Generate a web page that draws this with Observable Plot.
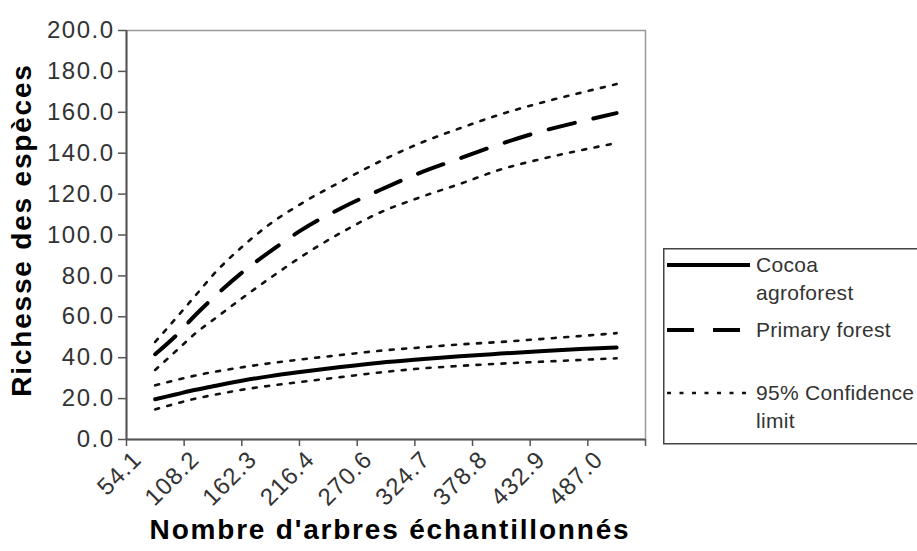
<!DOCTYPE html>
<html>
<head>
<meta charset="utf-8">
<script src="https://cdn.jsdelivr.net/npm/d3@7"></script>
<script src="https://cdn.jsdelivr.net/npm/@observablehq/plot@0.6"></script>
<style>
  html, body { margin: 0; padding: 0; background: #fff; overflow: hidden; }
  #wrap { position: relative; width: 917px; height: 551px; overflow: hidden; font-family: "Liberation Sans", Arial, sans-serif; }
  #legend { position: absolute; left: 663px; top: 248px; }
</style>
</head>
<body>
<div id="wrap"></div>
<script>
// ---- data ----
const xTickLabels = ["54.1", "108.2", "162.3", "216.4", "270.6", "324.7", "378.8", "432.9", "487.0", ""];
const xTickValues = [54.1, 108.2, 162.3, 216.4, 270.6, 324.7, 378.8, 432.9, 487.0, 541.1];
const yTicks = [0, 20, 40, 60, 80, 100, 120, 140, 160, 180, 200];

const treesSampled = [81, 100, 119, 138, 161, 189, 217, 255, 292, 330, 367, 405, 442, 480, 514];
const primaryForest      = [41.7, 50.5, 61.0, 70.5, 81.0, 92.0, 102.0, 113.0, 122.0, 130.5, 137.5, 144.5, 150.5, 155.5, 159.6];
const primaryForestUpper = [47.7, 59.0, 70.5, 82.0, 93.5, 105.5, 115.0, 126.0, 136.0, 145.0, 152.2, 159.0, 164.5, 169.5, 173.8];
const primaryForestLower = [34.0, 43.0, 52.0, 59.5, 68.5, 79.0, 89.0, 101.0, 111.0, 118.5, 125.0, 132.0, 137.0, 141.4, 145.0];
const cocoaAgroforest      = [19.7, 22.0, 24.3, 26.3, 28.6, 31.0, 33.0, 35.4, 37.5, 39.2, 40.7, 42.0, 43.2, 44.3, 45.0];
const cocoaAgroforestUpper = [26.5, 29.0, 31.3, 33.2, 35.2, 37.3, 39.1, 41.3, 43.4, 45.0, 46.5, 47.7, 49.1, 50.6, 52.0];
const cocoaAgroforestLower = [14.7, 17.5, 20.0, 22.0, 24.2, 26.3, 28.1, 30.5, 32.8, 34.7, 36.0, 37.1, 38.0, 38.9, 39.7];

const legendLabels = [["Cocoa", "agroforest"], ["Primary forest"], ["95% Confidence", "limit"]];
const xTitle = "Nombre d'arbres échantillonnés";
const yTitle = "Richesse des espèces";

// ---- build ----
const rows = arr => treesSampled.map((x, i) => ({x, y: arr[i]}));
const font = "'Liberation Sans', Arial, sans-serif";
const solid = {stroke: "#000", strokeWidth: 4, strokeLinecap: "round"};
const dashed = {stroke: "#000", strokeWidth: 4, strokeDasharray: "27,19"};
const dotted = {stroke: "#111", strokeWidth: 2.6, strokeDasharray: "4,8.5"};

const chart = Plot.plot({
  width: 917,
  height: 551,
  marginLeft: 126,
  marginRight: 272,
  marginTop: 30,
  marginBottom: 112,
  style: {fontFamily: font, background: "#fff", color: "#333", overflow: "visible"},
  x: {type: "linear", domain: [xTickValues[0], xTickValues[xTickValues.length - 1]]},
  y: {domain: [yTicks[0], yTicks[yTicks.length - 1]]},
  marks: [
    Plot.frame({stroke: "#9a9a9a", strokeWidth: 1.5}),
    Plot.axisY({ticks: yTicks, tickFormat: d3.format(".1f"), tickSize: 8, tickPadding: 4,
      fontSize: 24, stroke: "#555", strokeWidth: 1.5, fill: "#333", label: null}),
    // tick marks only
    Plot.axisX({ticks: xTickValues, tickFormat: () => "", tickSize: 7, stroke: "#555", strokeWidth: 1.5, label: null}),
    // rotated tick labels only
    Plot.axisX({ticks: xTickValues, tickFormat: (d, i) => xTickLabels[i], tickSize: 0, tickPadding: 8,
      tickRotate: -45, fontSize: 24, dx: 11, dy: 8, fill: "#333", label: null}),
    Plot.ruleY([yTicks[0]], {stroke: "#555", strokeWidth: 2}),
    Plot.ruleX([xTickValues[0]], {stroke: "#555", strokeWidth: 2}),
    Plot.line(rows(primaryForestUpper), {x: "x", y: "y", curve: "monotone-x", ...dotted}),
    Plot.line(rows(primaryForestLower), {x: "x", y: "y", curve: "monotone-x", ...dotted}),
    Plot.line(rows(cocoaAgroforestUpper), {x: "x", y: "y", curve: "monotone-x", ...dotted}),
    Plot.line(rows(cocoaAgroforestLower), {x: "x", y: "y", curve: "monotone-x", ...dotted}),
    Plot.line(rows(primaryForest), {x: "x", y: "y", curve: "monotone-x", ...dashed}),
    Plot.line(rows(cocoaAgroforest), {x: "x", y: "y", curve: "monotone-x", ...solid}),
    Plot.text([yTitle], {frameAnchor: "left", textAnchor: "middle", dx: -104, dy: -5, rotate: -90, fontSize: 28,
      fontWeight: "bold", fill: "#000", text: d => d}),
    Plot.text([xTitle], {frameAnchor: "bottom", dx: 4, dy: 99, fontSize: 28, fontWeight: "bold",
      fill: "#000", text: d => d})
  ]
});
document.getElementById("wrap").appendChild(chart);

// text stretching to mimic the wide lettering of the reference
const svg = d3.select(chart);
svg.selectAll("g[aria-label='y-axis tick label'] text").style("letter-spacing", "1.5px");
svg.selectAll("g[aria-label='x-axis tick label'] text").style("letter-spacing", "1px");
svg.selectAll("g[aria-label='text'] text").style("letter-spacing", "1.8px");

// ---- legend ----
const lg = d3.select("#wrap").append("div").attr("id", "legend")
  .append("svg").attr("width", 270).attr("height", 197)
  .style("font-family", font).style("overflow", "visible");
lg.append("rect").attr("x", 0.75).attr("y", 0.75).attr("width", 290).attr("height", 195)
  .attr("fill", "#fff").attr("stroke", "#444").attr("stroke-width", 1.5);
const entryStyles = [solid, dashed, dotted];
const entryLineY = [17, 82, 145];
legendLabels.forEach((lines, i) => {
  const s = entryStyles[i];
  lg.append("line").attr("x1", 4).attr("x2", 87).attr("y1", entryLineY[i]).attr("y2", entryLineY[i])
    .attr("stroke", s.stroke).attr("stroke-width", s.strokeWidth)
    .attr("stroke-dasharray", s.strokeDasharray || null);
  lines.forEach((t, j) => {
    lg.append("text").attr("x", 93).attr("y", entryLineY[i] + 7 + j * 28)
      .attr("font-size", 21).attr("fill", "#333").style("letter-spacing", "0.3px").text(t);
  });
});
</script>
</body>
</html>
